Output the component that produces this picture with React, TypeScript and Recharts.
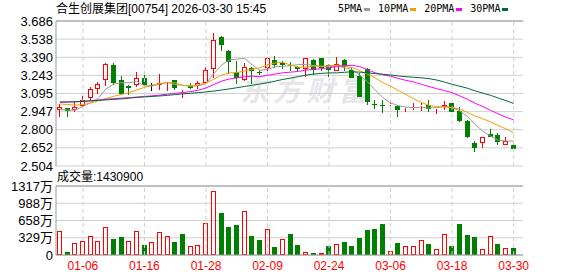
import React from 'react';
import { ComposedChart, Bar, Line, XAxis, YAxis, CartesianGrid, ReferenceLine } from 'recharts';

const dates = [
  '12-31', '01-02', '01-05', '01-06', '01-07', '01-08', '01-09', '01-12', '01-13', '01-14',
  '01-15', '01-16', '01-19', '01-20', '01-21', '01-22', '01-23', '01-26', '01-27', '01-28',
  '01-29', '01-30', '02-02', '02-03', '02-04', '02-05', '02-06', '02-09', '02-10', '02-11',
  '02-12', '02-13', '02-16', '02-20', '02-23', '02-24', '02-25', '02-26', '02-27', '03-02',
  '03-03', '03-04', '03-05', '03-06', '03-09', '03-10', '03-11', '03-12', '03-13', '03-16',
  '03-17', '03-18', '03-19', '03-20', '03-23', '03-24', '03-25', '03-26', '03-27', '03-30',
];

const opens = [
  2.958, 2.977, 2.96, 2.996, 3.058, 3.134, 3.205, 3.33, 3.208, 3.159,
  3.161, 3.221, 3.163, 3.167, 3.189, 3.205, 3.124, 3.159, 3.153, 3.181,
  3.295, 3.555, 3.444, 3.27, 3.208, 3.306, 3.273, 3.303, 3.368, 3.341,
  3.33, 3.314, 3.297, 3.371, 3.382, 3.33, 3.281, 3.371, 3.284, 3.24,
  3.297, 3.006, 2.999, 3.001, 2.996, 2.958, 2.977, 2.99, 2.999, 2.969,
  2.988, 3.017, 2.95, 2.874, 2.694, 2.692, 2.762, 2.754, 2.678, 2.678,
];
const highs = [
  3.009, 2.98, 3.034, 3.072, 3.148, 3.186, 3.34, 3.34, 3.24, 3.165,
  3.273, 3.254, 3.18, 3.254, 3.199, 3.208, 3.131, 3.181, 3.2, 3.308,
  3.591, 3.56, 3.447, 3.363, 3.344, 3.308, 3.289, 3.392, 3.398, 3.357,
  3.355, 3.316, 3.385, 3.374, 3.384, 3.332, 3.39, 3.376, 3.303, 3.262,
  3.3, 3.045, 3.045, 3.017, 2.998, 2.977, 3.015, 3.02, 3.042, 2.979,
  3.036, 3.019, 2.982, 2.876, 2.711, 2.742, 2.806, 2.773, 2.743, 2.692,
];
const lows = [
  2.901, 2.901, 2.941, 2.982, 3.031, 3.091, 3.159, 3.167, 3.08, 3.08,
  3.151, 3.153, 3.113, 3.124, 3.118, 3.124, 3.058, 3.134, 3.134, 3.172,
  3.221, 3.439, 3.254, 3.175, 3.194, 3.17, 3.248, 3.259, 3.303, 3.295,
  3.281, 3.281, 3.227, 3.248, 3.281, 3.227, 3.276, 3.281, 3.219, 3.064,
  3.004, 2.971, 2.936, 2.958, 2.901, 2.947, 2.963, 2.95, 2.941, 2.93,
  2.963, 2.941, 2.863, 2.736, 2.616, 2.651, 2.741, 2.678, 2.676, 2.641,
];
const closes = [
  2.988, 2.95, 2.985, 3.039, 3.132, 3.172, 3.335, 3.178, 3.094, 3.137,
  3.221, 3.161, 3.163, 3.181, 3.197, 3.14, 3.129, 3.14, 3.181, 3.287,
  3.534, 3.488, 3.349, 3.219, 3.314, 3.276, 3.262, 3.382, 3.33, 3.331,
  3.316, 3.297, 3.382, 3.289, 3.303, 3.289, 3.335, 3.308, 3.221, 3.066,
  3.026, 3.0, 2.99, 3.007, 2.958, 2.963, 2.985, 3.004, 2.969, 2.977,
  3.004, 2.947, 2.868, 2.738, 2.651, 2.74, 2.743, 2.697, 2.708, 2.643,
];
const prevClose = 2.96;

// volume in 万股
const volumes = [
  454, 58, 224, 262, 358, 268, 530, 307, 345, 268,
  454, 192, 249, 441, 358, 256, 403, 173, 185, 607,
  1227, 805, 537, 575, 837, 364, 288, 492, 153, 300,
  403, 192, 58, 38, 38, 173, 211, 249, 173, 326,
  479, 498, 594, 77, 230, 173, 173, 288, 211, 115,
  403, 173, 594, 383, 345, 115, 364, 211, 134, 143,
];

const ma5 = [
  2.965, 2.96, 2.96, 2.99, 3.019, 3.056, 3.133, 3.171, 3.182, 3.183,
  3.193, 3.158, 3.156, 3.172, 3.184, 3.168, 3.162, 3.158, 3.157, 3.175,
  3.254, 3.326, 3.368, 3.375, 3.381, 3.329, 3.284, 3.291, 3.313, 3.316,
  3.324, 3.331, 3.331, 3.323, 3.317, 3.312, 3.32, 3.305, 3.291, 3.244,
  3.191, 3.124, 3.061, 3.018, 2.996, 2.984, 2.981, 2.983, 2.976, 2.98,
  2.988, 2.98, 2.953, 2.907, 2.842, 2.789, 2.748, 2.714, 2.708, 2.706,
];
const ma10 = [
  3.01, 3.005, 3.0, 3.005, 3.018, 3.035, 3.055, 3.072, 3.088, 3.101,
  3.124, 3.145, 3.163, 3.177, 3.184, 3.181, 3.16, 3.156, 3.165, 3.18,
  3.211, 3.244, 3.263, 3.266, 3.278, 3.292, 3.305, 3.329, 3.344, 3.349,
  3.327, 3.308, 3.311, 3.318, 3.317, 3.319, 3.326, 3.317, 3.307, 3.281,
  3.252, 3.222, 3.183, 3.155, 3.12, 3.087, 3.052, 3.022, 2.997, 2.988,
  2.986, 2.98, 2.968, 2.941, 2.911, 2.888, 2.864, 2.833, 2.807, 2.774,
];
const ma20 = [
  3.024, 3.025, 3.027, 3.031, 3.036, 3.042, 3.048, 3.053, 3.057, 3.061,
  3.066, 3.071, 3.076, 3.082, 3.09, 3.097, 3.103, 3.11, 3.122, 3.14,
  3.168, 3.195, 3.213, 3.222, 3.231, 3.236, 3.232, 3.243, 3.254, 3.264,
  3.269, 3.275, 3.286, 3.292, 3.297, 3.305, 3.315, 3.323, 3.325, 3.314,
  3.289, 3.264, 3.247, 3.236, 3.218, 3.202, 3.189, 3.17, 3.152, 3.134,
  3.119, 3.101, 3.075, 3.048, 3.015, 2.988, 2.958, 2.928, 2.902, 2.881,
];
const ma30 = [
  3.026, 3.026, 3.028, 3.031, 3.035, 3.039, 3.043, 3.047, 3.051, 3.057,
  3.063, 3.067, 3.071, 3.075, 3.08, 3.086, 3.092, 3.097, 3.102, 3.108,
  3.115, 3.123, 3.132, 3.142, 3.152, 3.162, 3.172, 3.183, 3.196, 3.21,
  3.221, 3.232, 3.245, 3.254, 3.259, 3.263, 3.263, 3.268, 3.272, 3.269,
  3.263, 3.258, 3.252, 3.246, 3.238, 3.232, 3.227, 3.223, 3.216, 3.205,
  3.188, 3.17, 3.154, 3.138, 3.116, 3.098, 3.08, 3.058, 3.037, 3.014,
];

const priceTicks = [2.504, 2.652, 2.8, 2.947, 3.095, 3.243, 3.39, 3.538, 3.686];
const volumeTicks = [0, 329, 658, 988, 1317];
const tickDates = ['01-06', '01-16', '01-28', '02-09', '02-24', '03-06', '03-18', '03-30'];

const maNames = ['5PMA', '10PMA', '20PMA', '30PMA'];
const maKeys = ['ma5', 'ma10', 'ma20', 'ma30'];
const maColors = ['#9a9a9a', '#f5a000', '#ff00ff', '#006a36'];

const RED = '#ff0000';
const GREEN = '#008000';
const FRAME = '#999999';
const GRID = '#d0d0d0';
const FONT = '"Liberation Sans", Arial, "Noto Sans CJK SC", sans-serif';

const rows = dates.map((d, i) => ({
  d,
  open: opens[i],
  high: highs[i],
  low: lows[i],
  close: closes[i],
  vol: volumes[i],
  up: closes[i] >= (i === 0 ? prevClose : closes[i - 1]),
  ma5: ma5[i],
  ma10: ma10[i],
  ma20: ma20[i],
  ma30: ma30[i],
}));

function Candle(props: any) {
  const { x, width, payload } = props;
  const h = Math.abs(props.height);
  const y0 = props.height >= 0 ? props.y : props.y + props.height;
  const { open, close, high, low } = payload;
  const span = high - low;
  const py = (v: number) => (span > 0 ? y0 + ((high - v) / span) * h : y0);
  const left = Math.round(x + width / 2 - 2.5);
  const mid = left + 2.5;
  const hi = Math.round(y0);
  const lo = Math.round(y0 + h);
  const top = Math.round(py(Math.max(open, close)));
  const bot = Math.round(py(Math.min(open, close)));

  if (open === close) {
    return (
      <g>
        <line x1={mid} x2={mid} y1={hi} y2={lo} stroke="#000" />
        <line x1={left} x2={left + 5} y1={top + 0.5} y2={top + 0.5} stroke="#000" />
      </g>
    );
  }
  if (close > open) {
    return (
      <g>
        {top > hi && <line x1={mid} x2={mid} y1={hi} y2={top} stroke={RED} />}
        {lo > bot && <line x1={mid} x2={mid} y1={bot} y2={lo} stroke={RED} />}
        <rect x={left + 0.5} y={top + 0.5} width={4} height={Math.max(bot - top - 1, 0)} fill="none" stroke={RED} />
      </g>
    );
  }
  return (
    <g>
      <line x1={mid} x2={mid} y1={hi} y2={lo} stroke={GREEN} />
      <rect x={left} y={top} width={5} height={Math.max(bot - top, 1)} fill={GREEN} />
    </g>
  );
}

function VolBar(props: any) {
  const { x, y, width, height, payload } = props;
  const left = Math.round(x + width / 2 - 2.5);
  const top = Math.round(y);
  const bot = Math.round(y + height);
  if (payload.up) {
    return <rect x={left + 0.5} y={top + 0.5} width={4} height={Math.max(bot - top - 1, 0)} fill="none" stroke={RED} />;
  }
  return <rect x={left} y={top} width={5} height={Math.max(bot - top, 1)} fill={GREEN} />;
}

export default function App() {
  return (
    <div style={{ position: 'absolute', left: 0, top: 0, width: 578, height: 276, background: '#fff', overflow: 'hidden', fontFamily: FONT }}>
      {/* watermark */}
      <div style={{ position: 'absolute', left: 240, top: 72, fontSize: 28, fontWeight: 'bold', fontStyle: 'italic', color: '#e6e6eb', letterSpacing: 5, fontFamily: '"Noto Sans CJK SC", sans-serif', lineHeight: '34px' }}>
        东方财富
      </div>

      <div style={{ position: 'absolute', left: 56, top: 2, fontSize: 12, lineHeight: '14px', color: '#000', whiteSpace: 'nowrap' }}>
        合生创展集团[00754] 2026-03-30 15:45
      </div>

      <div style={{ position: 'absolute', left: 338, top: 2, display: 'flex', alignItems: 'center', fontSize: 10, lineHeight: '14px', fontFamily: '"DejaVu Sans Mono", monospace', color: '#000' }}>
        {maNames.map((n, i) => (
          <span key={n} style={{ display: 'flex', alignItems: 'center', marginRight: 8 }}>
            {n}
            <span style={{ display: 'inline-block', width: 6, height: 3, marginLeft: 2, background: maColors[i] }} />
          </span>
        ))}
      </div>

      <div style={{ position: 'absolute', left: 0, top: 0 }}>
        <ComposedChart width={578} height={176} data={rows} margin={{ top: 21, right: 55, bottom: 10, left: 0 }}>
          <CartesianGrid vertical={false} stroke={GRID} />
          <XAxis dataKey="d" padding={{ left: 0, right: 5.5 }} tick={false} tickLine={false} axisLine={{ stroke: FRAME }} height={0} />
          <YAxis
            domain={[2.504, 3.686]}
            ticks={priceTicks}
            interval={0}
            width={56}
            tickLine={false}
            tickSize={0}
            tickMargin={3}
            axisLine={{ stroke: FRAME }}
            tick={{ fontSize: 13, fill: '#000', fontFamily: FONT }}
            tickFormatter={(v: number) => v.toFixed(3)}
          />
          <YAxis yAxisId="frame" orientation="right" type="number" domain={[0, 1]} width={0} tick={false} tickLine={false} axisLine={{ stroke: FRAME }} />
          {tickDates.map((t) => (
            <ReferenceLine key={t} x={t} stroke={GRID} strokeDasharray="4 3" />
          ))}
          <ReferenceLine y={3.686} stroke={FRAME} />
          <Bar dataKey={(r: any) => [r.low, r.high]} barSize={5} shape={(p: any) => <Candle {...p} />} isAnimationActive={false} />
          {maKeys.map((k, i) => (
            <Line key={k} type="linear" dataKey={k} stroke={maColors[i]} strokeWidth={1} dot={false} activeDot={false} isAnimationActive={false} />
          ))}
        </ComposedChart>
      </div>

      <div style={{ position: 'absolute', left: 57, top: 170, fontSize: 12, lineHeight: '14px', color: '#000', whiteSpace: 'nowrap' }}>
        成交量:1430900
      </div>

      <div style={{ position: 'absolute', left: 0, top: 170 }}>
        <ComposedChart width={578} height={106} data={rows} margin={{ top: 16, right: 55, bottom: 0, left: 0 }}>
          <CartesianGrid vertical={false} stroke={GRID} />
          <XAxis
            dataKey="d"
            padding={{ left: 0, right: 5.5 }}
            ticks={tickDates}
            interval={0}
            tickLine={false}
            tickSize={0}
            tickMargin={6}
            height={21}
            axisLine={{ stroke: FRAME }}
            tick={{ fontSize: 12, fill: RED, fontFamily: FONT }}
          />
          <YAxis
            domain={[0, 1317]}
            ticks={volumeTicks}
            interval={0}
            width={56}
            tickLine={false}
            tickSize={0}
            tickMargin={3}
            axisLine={{ stroke: FRAME }}
            tick={{ fontSize: 13, fill: '#000', fontFamily: FONT }}
            tickFormatter={(v: number) => (v === 0 ? '0' : `${v}万`)}
          />
          <YAxis yAxisId="frame" orientation="right" type="number" domain={[0, 1]} width={0} tick={false} tickLine={false} axisLine={{ stroke: FRAME }} />
          {tickDates.map((t) => (
            <ReferenceLine key={t} x={t} stroke={GRID} strokeDasharray="4 3" />
          ))}
          <ReferenceLine y={1317} stroke={FRAME} />
          <Bar dataKey="vol" barSize={5} shape={(p: any) => <VolBar {...p} />} isAnimationActive={false} />
        </ComposedChart>
      </div>
    </div>
  );
}
